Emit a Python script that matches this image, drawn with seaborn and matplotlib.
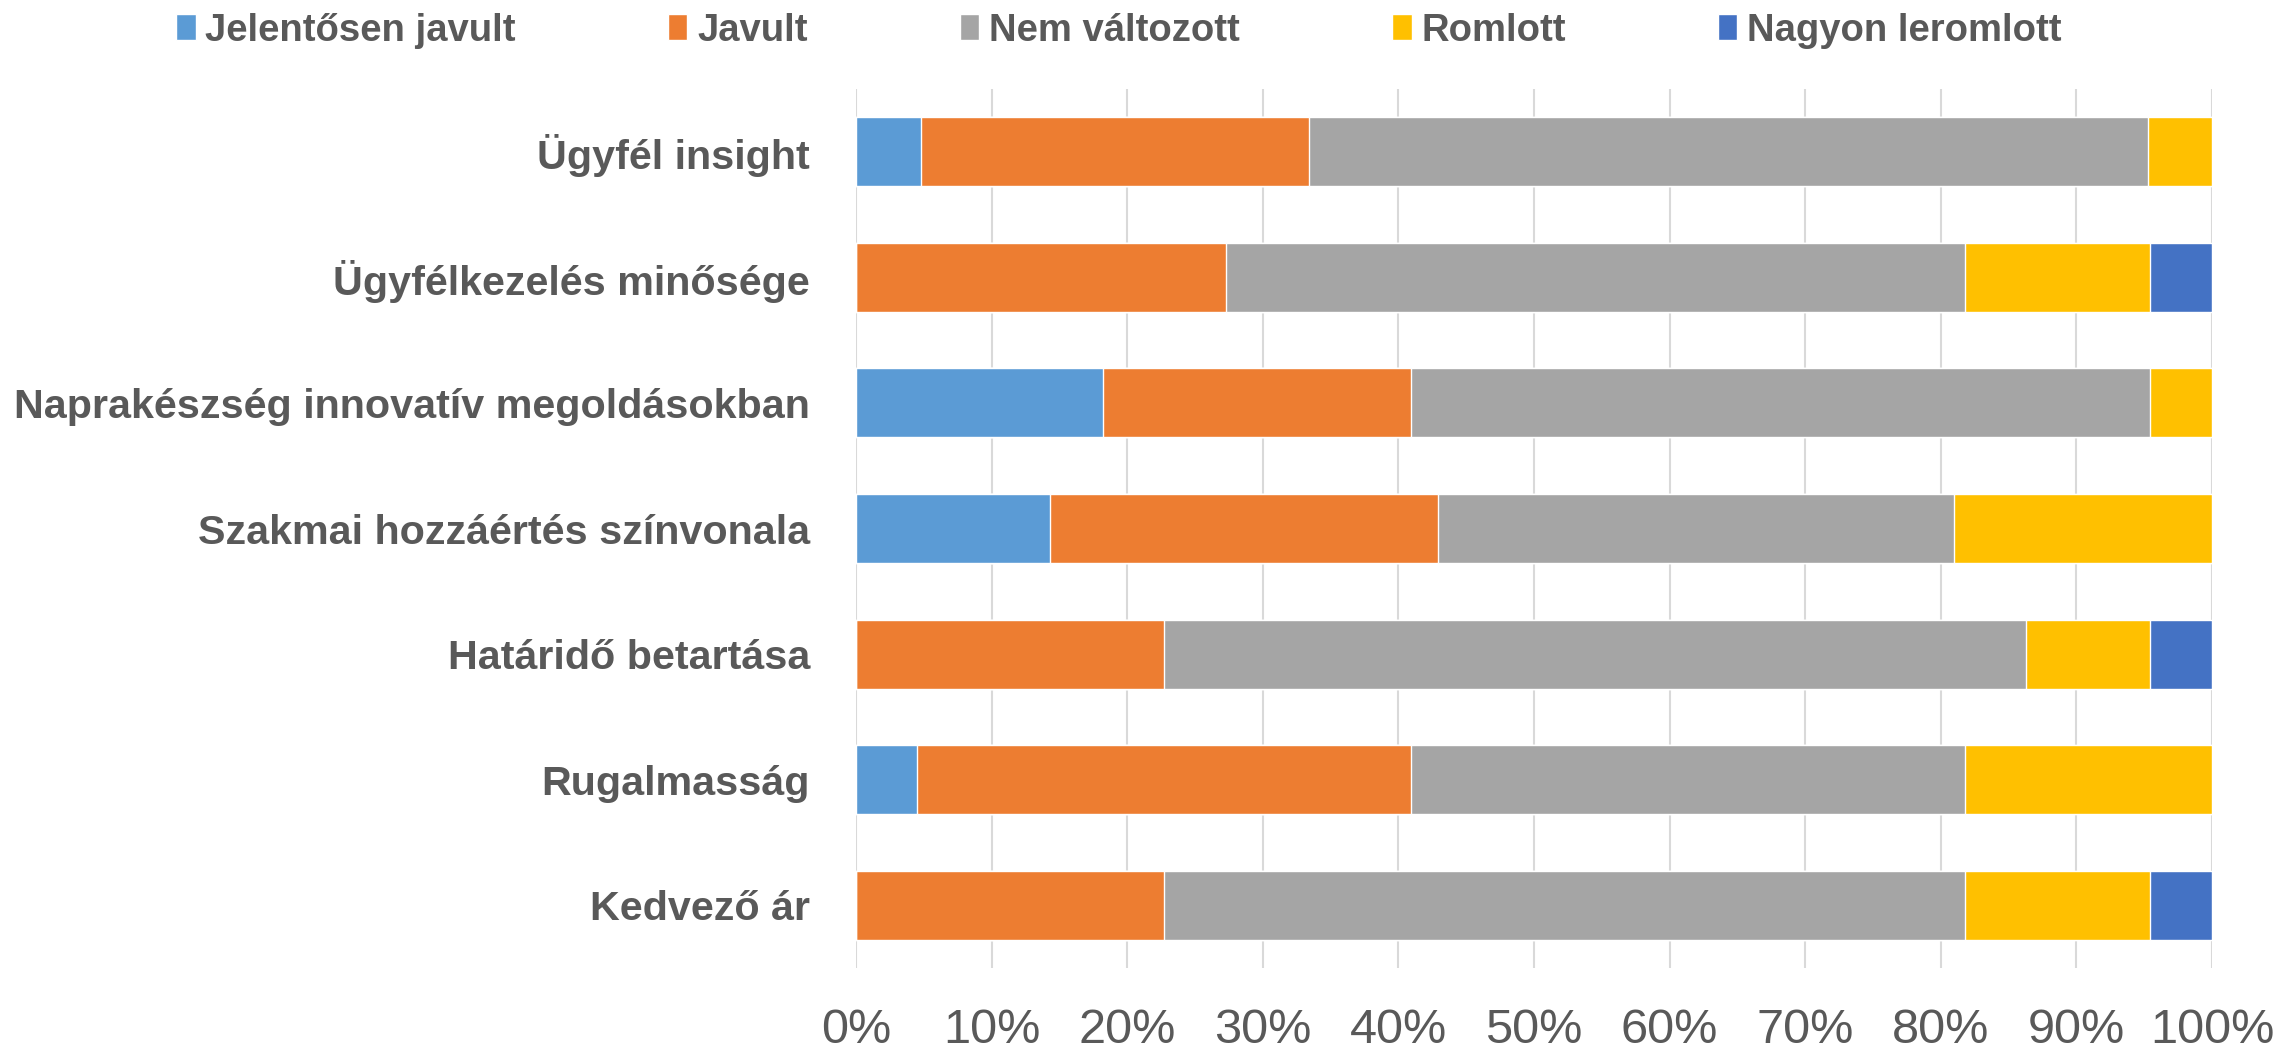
import numpy as np
import pandas as pd
import seaborn as sns
import matplotlib.pyplot as plt
from matplotlib.patches import Patch

# categories (top to bottom) and shares in %
categories = ["Ügyfél insight", "Ügyfélkezelés minősége", "Naprakészség innovatív megoldásokban",
              "Szakmai hozzáértés színvonala", "Határidő betartása", "Rugalmasság", "Kedvező ár"]
series = ["Jelentősen javult", "Javult", "Nem változott", "Romlott", "Nagyon leromlott"]
jelentosen_javult = [4.8, 0.0, 18.2, 14.3, 0.0, 4.5, 0.0]
javult = [28.6, 27.3, 22.7, 28.6, 22.7, 36.4, 22.7]
nem_valtozott = [61.9, 54.5, 54.5, 38.1, 63.6, 40.9, 59.1]
romlott = [4.7, 13.6, 4.6, 19.0, 9.1, 18.2, 13.6]
nagyon_leromlott = [0.0, 4.6, 0.0, 0.0, 4.6, 0.0, 4.6]
colors = ["#5B9BD5", "#ED7D31", "#A5A5A5", "#FFC000", "#4472C4"]

df = pd.DataFrame({"kat": categories, series[0]: jelentosen_javult, series[1]: javult,
                   series[2]: nem_valtozott, series[3]: romlott, series[4]: nagyon_leromlott})
cum = df[series].cumsum(axis=1)

sns.set_style("white")
plt.rcParams['font.family'] = ['Liberation Sans', 'DejaVu Sans']
txt = "#595959"

fig = plt.figure(figsize=(22.79, 10.52), dpi=100)
ax = fig.add_axes([0.3756, 0.0798, 0.9706 - 0.3756, 0.9154 - 0.0798])

# stacked bars: draw cumulative totals from longest to shortest
for s, c in reversed(list(zip(series, colors))):
    sns.barplot(x=cum[s], y=df["kat"], orient="h", color=c, width=0.55,
                saturation=1, ax=ax, zorder=2)

ax.set_xlim(0, 100)
ax.set_xticks(np.arange(0, 101, 10))
ax.set_xticklabels([f"{v}%" for v in range(0, 101, 10)], fontsize=35, color=txt)
ax.set_xlabel("")
ax.set_ylabel("")
ax.grid(axis="x", color="#D9D9D9", linewidth=1.5, zorder=0)
ax.grid(axis="y", visible=False)
for sp in ax.spines.values():
    sp.set_visible(False)
ax.tick_params(axis="x", length=0, pad=29)
ax.tick_params(axis="y", length=0, pad=33)
for lab in ax.get_yticklabels():
    lab.set_fontsize(29.7)
    lab.set_fontweight("bold")
    lab.set_color(txt)

handles = [Patch(facecolor=c, label=s) for s, c in zip(series, colors)]
leg = fig.legend(handles=handles, loc="center", bbox_to_anchor=(0.491, 0.971), ncol=5,
                 frameon=False, handlelength=0.5, handleheight=0.65, handletextpad=0.25,
                 columnspacing=4.0, prop={"size": 27.5, "weight": "bold"})
for t in leg.get_texts():
    t.set_color(txt)

fig.savefig("out.png", dpi=100)
